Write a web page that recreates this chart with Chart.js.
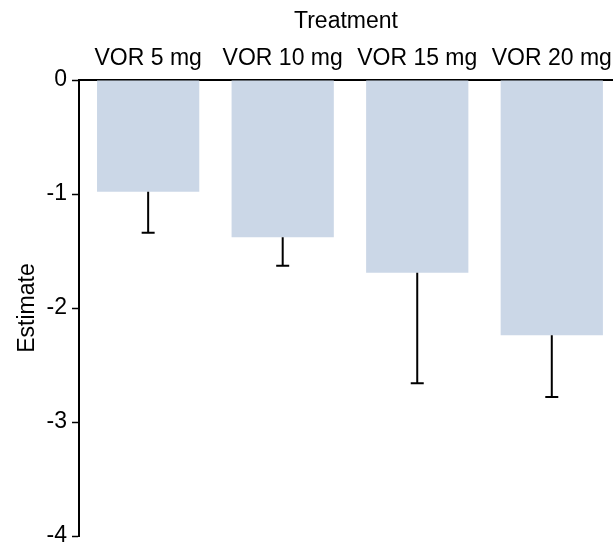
<!DOCTYPE html>
<html lang="en">
<head>
    <meta charset="UTF-8">
    <title>Treatment Estimates</title>
    <script src="https://cdn.jsdelivr.net/npm/chart.js"></script>
    <style>
        html, body {
            margin: 0;
            padding: 0;
            background: #ffffff;
            overflow: hidden;
        }
        #wrap {
            width: 613px;
            height: 544px;
        }
    </style>
</head>
<body>
    <div id="wrap"><canvas id="estimateChart"></canvas></div>
    <script>
        const treatments = ['VOR 5 mg', 'VOR 10 mg', 'VOR 15 mg', 'VOR 20 mg'];
        const positions = [1, 2, 3, 4];
        const estimates = [-0.98, -1.38, -1.69, -2.24];
        const lowerBounds = [-1.34, -1.63, -2.66, -2.78];
        const yTicks = [0, -1, -2, -3, -4];

        const font = { family: "'Liberation Sans', Arial, sans-serif", size: 23 };

        // lower whisker only, drawn from bar end down to lower bound
        const errorBars = {
            id: 'errorBars',
            afterDatasetsDraw(chart) {
                const ctx = chart.ctx;
                const yScale = chart.scales.y;
                const meta = chart.getDatasetMeta(0);
                ctx.save();
                ctx.strokeStyle = '#000000';
                ctx.lineWidth = 2;
                meta.data.forEach((bar, i) => {
                    const yEnd = yScale.getPixelForValue(lowerBounds[i]);
                    ctx.beginPath();
                    ctx.moveTo(bar.x, bar.y);
                    ctx.lineTo(bar.x, yEnd);
                    ctx.moveTo(bar.x - 6.5, yEnd);
                    ctx.lineTo(bar.x + 6.5, yEnd);
                    ctx.stroke();
                });
                ctx.restore();
            }
        };

        const ctx = document.getElementById('estimateChart').getContext('2d');
        new Chart(ctx, {
            type: 'bar',
            data: {
                datasets: [{
                    label: 'Estimate',
                    data: positions.map((p, i) => ({ x: p, y: estimates[i] })),
                    backgroundColor: '#cbd7e7',
                    borderWidth: 0,
                    barPercentage: 0.76,
                    categoryPercentage: 1
                }]
            },
            options: {
                responsive: true,
                maintainAspectRatio: false,
                animation: false,
                layout: { padding: { left: 0, right: 0, top: 0, bottom: 8 } },
                plugins: {
                    legend: { display: false },
                    tooltip: { enabled: false }
                },
                scales: {
                    x: {
                        type: 'linear',
                        position: 'top',
                        offset: false,
                        min: 0.486,
                        max: 4.455,
                        afterBuildTicks: scale => {
                            scale.ticks = positions.map(v => ({ value: v }));
                        },
                        afterFit: scale => {
                            scale.height = 80;
                            scale.paddingLeft = 0;
                            scale.paddingRight = 0;
                        },
                        grid: { display: true, offset: false, drawOnChartArea: false, drawTicks: false },
                        border: { display: true, color: '#000000', width: 2 },
                        ticks: {
                            color: '#000000',
                            font: font,
                            padding: 8,
                            maxRotation: 0,
                            autoSkip: false,
                            callback: v => treatments[v - 1]
                        },
                        title: {
                            display: true,
                            text: 'Treatment',
                            color: '#000000',
                            font: font,
                            padding: { top: 8, bottom: 0 }
                        }
                    },
                    y: {
                        min: -4,
                        max: 0,
                        afterBuildTicks: scale => {
                            scale.ticks = yTicks.map(v => ({ value: v }));
                        },
                        afterFit: scale => {
                            scale.width = 79;
                            scale.paddingTop = 0;
                            scale.paddingBottom = 0;
                        },
                        grid: {
                            display: true,
                            drawOnChartArea: false,
                            drawTicks: true,
                            tickLength: 7,
                            tickWidth: 1.5,
                            tickColor: '#000000'
                        },
                        border: { display: true, color: '#000000', width: 2 },
                        ticks: {
                            color: '#000000',
                            font: font,
                            padding: 5
                        },
                        title: {
                            display: true,
                            text: 'Estimate',
                            color: '#000000',
                            font: font,
                            padding: { top: 14, bottom: 0 }
                        }
                    }
                }
            },
            plugins: [errorBars]
        });
    </script>
</body>
</html>
